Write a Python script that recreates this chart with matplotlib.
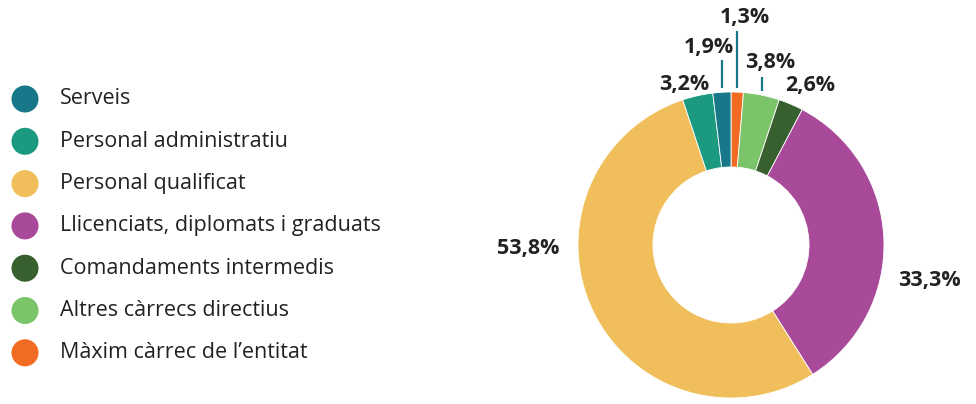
import matplotlib
matplotlib.use("Agg")
import matplotlib.pyplot as plt
import numpy as np

# ---- data ----
categories = ["Serveis", "Personal administratiu", "Personal qualificat",
              "Llicenciats, diplomats i graduats", "Comandaments intermedis",
              "Altres càrrecs directius", "Màxim càrrec de l’entitat"]
values = [1.9, 3.2, 53.8, 33.3, 2.6, 3.8, 1.3]
labels = ["1,9%", "3,2%", "53,8%", "33,3%", "2,6%", "3,8%", "1,3%"]

# ---- styles ----
colors = ["#18788a", "#1b9a7f", "#f0bf5c", "#a9499a", "#385f2e", "#7bc46a", "#f26b22"]
pie_order = [6, 5, 4, 3, 2, 1, 0]  # clockwise from top
label_pos = {0: (-0.144, 1.29), 1: (-0.307, 1.046), 2: (-1.327, -0.02),
             3: (1.30, -0.235), 4: (0.516, 1.04), 5: (0.255, 1.19), 6: (0.09, 1.49)}
leader = {0: (1.026, 1.21), 5: (1.026, 1.10), 6: (1.026, 1.40)}
text_color = "#222222"
font = "Open Sans"

W, H = 976, 404
fig = plt.figure(figsize=(W / 100, H / 100), dpi=100)

# pie axes: centre (731,245) px, radius 153 px
cx, cy, r = 731, 245, 153
ax = fig.add_axes([(cx - r) / W, (H - cy - r) / H, 2 * r / W, 2 * r / H])
vals = [values[i] for i in pie_order]
cols = [colors[i] for i in pie_order]
wedges, _ = ax.pie(vals, colors=cols, startangle=90, counterclock=False,
                   radius=1.0, wedgeprops=dict(width=0.49, edgecolor="white", linewidth=0.6))
ax.set_xlim(-1, 1)
ax.set_ylim(-1, 1)
ax.set_aspect("equal")
ax.axis("off")

for w, idx in zip(wedges, pie_order):
    mid = np.deg2rad((w.theta1 + w.theta2) / 2)
    lx, ly = label_pos[idx]
    ax.text(lx, ly, labels[idx], ha="center", va="center", fontsize=15.5,
            fontweight="bold", color=text_color, family=font, clip_on=False)
    if idx in leader:
        r0, ytop = leader[idx]
        x = np.cos(mid) * r0
        ax.plot([x, x], [np.sin(mid) * r0, ytop], color="#18788a", lw=1.6,
                clip_on=False, solid_capstyle="butt")

# legend axes in pixel coords
lax = fig.add_axes([0, 0, 1, 1])
lax.set_xlim(0, W)
lax.set_ylim(H, 0)
lax.axis("off")
y0, pitch = 99, 42.3
for i, (c, lab) in enumerate(zip(colors, categories)):
    y = y0 + i * pitch
    lax.scatter([25], [y], s=27 ** 2 * 0.52, color=c, edgecolors="none")
    lax.text(60, y, lab, ha="left", va="center", fontsize=15.5, color=text_color, family=font)

fig.savefig("out.png", dpi=100, facecolor="white")
